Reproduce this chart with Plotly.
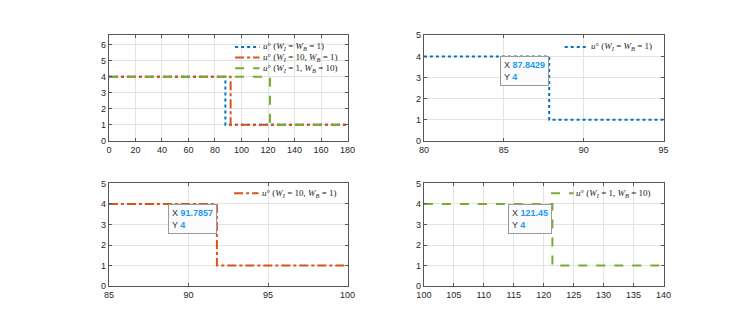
import plotly.graph_objects as go

# ---- data ----
switch_eq = 87.8429      # W_I = W_B = 1
switch_wi = 91.7857      # W_I = 10, W_B = 1
switch_wb = 121.45       # W_I = 1, W_B = 10
u_before = 4
u_after = 1
t_start_full, t_end_full = 0, 180
t_start_1, t_end_1 = 80, 95
t_start_2, t_end_2 = 85, 100
t_start_3, t_end_3 = 100, 140

names = [
    "<i>u</i>° (<i>W</i><sub><i>I</i></sub> = <i>W</i><sub><i>B</i></sub> = 1)",
    "<i>u</i>° (<i>W</i><sub><i>I</i></sub> = 10, <i>W</i><sub><i>B</i></sub> = 1)",
    "<i>u</i>° (<i>W</i><sub><i>I</i></sub> = 1, <i>W</i><sub><i>B</i></sub> = 10)",
]
switches = [switch_eq, switch_wi, switch_wb]
colors = ["#0072BD", "#D95319", "#77AC30"]
dashes = ["dot", "dashdot", "dash"]

W, H = 732, 318
def xd(a, b):
    return [a / W, b / W]
def yd(top, bot):
    return [1 - bot / H, 1 - top / H]
def px(x):
    return x / W
def py(y):
    return 1 - y / H

fig = go.Figure()

# top-left: all three
for i in range(3):
    fig.add_trace(go.Scatter(
        x=[t_start_full, switches[i], t_end_full], y=[u_before, u_after, u_after],
        mode="lines", line=dict(color=colors[i], dash=dashes[i], width=2, shape="hv"),
        name=names[i], xaxis="x", yaxis="y", showlegend=False))

zooms = [(t_start_1, t_end_1), (t_start_2, t_end_2), (t_start_3, t_end_3)]
ax = ["2", "3", "4"]
for i in range(3):
    a, b = zooms[i]
    fig.add_trace(go.Scatter(
        x=[a, switches[i], b], y=[u_before, u_after, u_after],
        mode="lines", line=dict(color=colors[i], dash=dashes[i], width=2, shape="hv"),
        name=names[i], xaxis="x" + ax[i], yaxis="y" + ax[i], showlegend=False))
    fig.add_annotation(
        x=switches[i], y=u_before, xref="x" + ax[i], yref="y" + ax[i],
        text=f"X <b><span style='color:#1a9bf0'>{switches[i]:g}</span></b><br>Y <b><span style='color:#1a9bf0'>{u_before}</span></b>",
        showarrow=False, xanchor="right", yanchor="top", align="left",
        bgcolor="#fbfbfe", bordercolor="#9a9a9a", borderwidth=1, borderpad=3,
        font=dict(family="Liberation Sans, Arial", size=9, color="#333333"))

# legend entries (sample line start, sample line end, text start, row y, series index)
legend_rows = [
    (224, 249, 251, 35, 0),
    (224, 249, 251, 46, 1),
    (224, 249, 251, 57, 2),
    (561, 585, 587, 35, 0),
    (223, 248, 250, 186, 1),
    (547, 570, 572, 186, 2),
]
for x0, x1, xt, yr, i in legend_rows:
    fig.add_shape(type="line", xref="paper", yref="paper",
                  x0=px(x0), x1=px(x1), y0=py(yr), y1=py(yr),
                  line=dict(color=colors[i], dash=dashes[i], width=2))
    fig.add_annotation(x=px(xt), y=py(yr), xref="paper", yref="paper",
                       text=names[i], showarrow=False, xanchor="left", yanchor="middle",
                       borderpad=0,
                       font=dict(family="Liberation Serif, DejaVu Serif", size=9, color="#222222"))

axis_common = dict(showgrid=True, gridcolor="#e3e3e3", gridwidth=1, zeroline=False,
                   showline=True, linecolor="#555555", linewidth=1, mirror="ticks",
                   ticks="inside", ticklen=3, tickcolor="#555555",
                   tickfont=dict(family="Liberation Sans, Arial", size=9, color="#262626"))

col1 = xd(95, 339)
col2 = xd(417, 662)
row1 = yd(23, 132)
row2 = yd(176, 282)

fig.update_layout(
    width=W, height=H, margin=dict(l=0, r=0, t=0, b=0),
    paper_bgcolor="white", plot_bgcolor="white", showlegend=False,
    xaxis=dict(domain=col1, range=[t_start_full, t_end_full], dtick=20, anchor="y", **axis_common),
    yaxis=dict(domain=row1, range=[0, 6.6], dtick=1, anchor="x", **axis_common),
    xaxis2=dict(domain=col2, range=[t_start_1, t_end_1], dtick=5, anchor="y2", **axis_common),
    yaxis2=dict(domain=row1, range=[0, 5], dtick=1, anchor="x2", **axis_common),
    xaxis3=dict(domain=col1, range=[t_start_2, t_end_2], dtick=5, anchor="y3", **axis_common),
    yaxis3=dict(domain=row2, range=[0, 5], dtick=1, anchor="x3", **axis_common),
    xaxis4=dict(domain=col2, range=[t_start_3, t_end_3], dtick=5, anchor="y4", **axis_common),
    yaxis4=dict(domain=row2, range=[0, 5], dtick=1, anchor="x4", **axis_common),
)

fig.write_html("out.html")
